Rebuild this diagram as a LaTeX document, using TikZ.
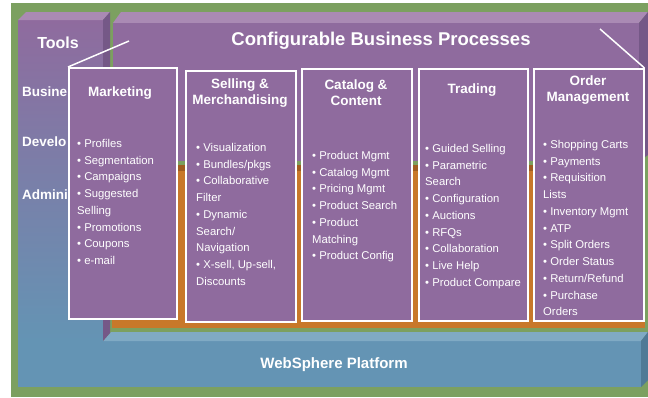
\documentclass[tikz,border=0pt]{standalone}
\usepackage{fontspec}
\setmainfont{Liberation Sans}
\usepackage{xcolor}
\definecolor{wsGreen}{RGB}{124,160,96}
\definecolor{wsPurple}{RGB}{143,107,158}
\definecolor{wsPurpleTop}{RGB}{170,138,180}
\definecolor{wsPurpleSide}{RGB}{117,88,135}
\definecolor{wsOrange}{RGB}{200,120,42}
\definecolor{wsOrangeDark}{RGB}{160,92,32}
\definecolor{wsBlue}{RGB}{100,148,180}
\definecolor{wsBlueTop}{RGB}{128,170,196}
\definecolor{wsBlueSide}{RGB}{80,122,150}

\begin{document}
\begin{tikzpicture}[x=1pt,y=-1pt]
\tikzstyle{module} = [draw=white, line width=1.5pt, fill=wsPurple, anchor=north west, inner sep=0pt]
\tikzstyle{title} = [text=white, font=\fontsize{13.5}{16}\selectfont\bfseries, align=center]
\tikzstyle{items} = [text=white, font=\fontsize{11.3}{16.75}\selectfont, align=left, anchor=north west, inner sep=0pt]
\tikzstyle{side} = [text=white, font=\fontsize{13.5}{15}\selectfont\bfseries, anchor=west, inner sep=0pt]

\useasboundingbox (0,0) rectangle (648,397);
% background
\fill[wsGreen] (11,3) rectangle (648,397);

% platform slab
\fill[wsBlue] (18,341) rectangle (641,387);
\fill[wsBlueTop] (103,341) -- (111,332) -- (648,332) -- (641,341) -- cycle;
\fill[wsBlueSide] (641,341) -- (648,332) -- (648,380) -- (641,387) -- cycle;
\node[text=white, font=\fontsize{15}{17}\selectfont\bfseries] (ws) at (334,365) {WebSphere Platform};

% tools column
\shade[top color=wsPurple, bottom color=wsBlue] (18,20) rectangle (103,341);
\fill[wsPurpleTop] (18,20) -- (26,12) -- (110,12) -- (103,20) -- cycle;
\fill[wsPurpleSide] (103,20) -- (110,12) -- (110,333) -- (103,341) -- cycle;
\node[text=white, font=\fontsize{16}{18}\selectfont\bfseries] (tools) at (58,43) {Tools};
\node[side] (bus) at (22,92) {Busine};
\node[side] (dev) at (22,142) {Develo};
\node[side] (adm) at (22,195) {Admini};

% orange layer
\fill[wsOrange] (112,165) rectangle (645,328);
\fill[wsOrangeDark] (112,165) rectangle (645,171);

% business processes slab
\fill[wsPurpleTop] (113,23) -- (121,12) -- (648,12) -- (639,23) -- cycle;
\fill[wsPurple] (113,23) rectangle (639,161);
\fill[wsPurpleSide] (639,23) -- (648,12) -- (648,155) -- (639,161) -- cycle;
\node[text=white, font=\fontsize{18.5}{20}\selectfont\bfseries] (cbp) at (381,41) {Configurable Business Processes};

% modules
\node[module, minimum width=108, minimum height=251] (mkt) at (68,67) {};
\node[module, minimum width=110, minimum height=251] (sell) at (185,70) {};
\node[module, minimum width=110, minimum height=252] (cat) at (301,68) {};
\node[module, minimum width=109, minimum height=252] (trd) at (418,68) {};
\node[module, minimum width=110, minimum height=252] (om) at (533,68) {};

\coordinate (tl) at (129,41);
\coordinate (tr) at (600,29);
\draw[white, line width=1.5pt] (mkt.north west) -- (tl);
\draw[white, line width=1.5pt] (om.north east) -- (tr);

\node[title] (mktT) at (120,93) {Marketing};
\node[title] (sellT) at (240,93) {Selling \&\\Merchandising};
\node[title] (catT) at (356,93) {Catalog \&\\Content};
\node[title] (trdT) at (472,90) {Trading};
\node[title] (omT) at (588,90) {Order\\Management};

\node[items] (mktL) at (77,139) {• Profiles\\• Segmentation\\• Campaigns\\• Suggested\\Selling\\• Promotions\\• Coupons\\• e-mail};
\node[items] (sellL) at (196,143) {• Visualization\\• Bundles/pkgs\\• Collaborative\\Filter\\• Dynamic\\Search/\\Navigation\\• X-sell, Up-sell,\\Discounts};
\node[items] (catL) at (312,151) {• Product Mgmt\\• Catalog Mgmt\\• Pricing Mgmt\\• Product Search\\• Product\\Matching\\• Product Config};
\node[items] (trdL) at (425,144) {• Guided Selling\\• Parametric\\Search\\• Configuration\\• Auctions\\• RFQs\\• Collaboration\\• Live Help\\• Product Compare};
\node[items] (omL) at (543,140) {• Shopping Carts\\• Payments\\• Requisition\\Lists\\• Inventory Mgmt\\• ATP\\• Split Orders\\• Order Status\\• Return/Refund\\• Purchase\\Orders};
\end{tikzpicture}
\end{document}
